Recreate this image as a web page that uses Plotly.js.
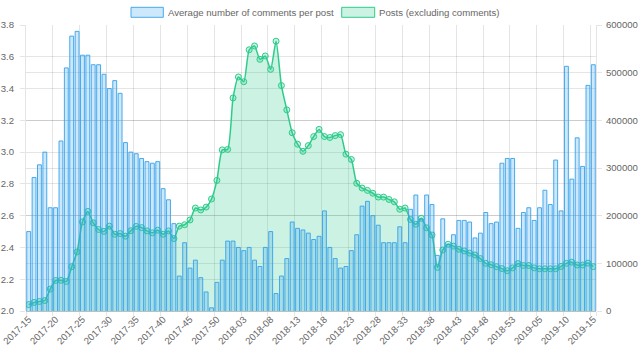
<!DOCTYPE html>
<html><head><meta charset="utf-8">
<script src="https://cdn.plot.ly/plotly-3.0.1.min.js"></script>
<style>html,body{margin:0;padding:0;background:#fff}#chart{width:640px;height:361px}</style>
</head><body><div id="chart"></div>
<script>
const weeks = [
"2017-15","2017-16","2017-17","2017-18","2017-19","2017-20","2017-21","2017-22","2017-23","2017-24",
"2017-25","2017-26","2017-27","2017-28","2017-29","2017-30","2017-31","2017-32","2017-33","2017-34",
"2017-35","2017-36","2017-37","2017-38","2017-39","2017-40","2017-41","2017-42","2017-43","2017-44",
"2017-45","2017-46","2017-47","2017-48","2017-49","2017-50","2017-51","2017-52",
"2018-01","2018-02","2018-03","2018-04","2018-05","2018-06","2018-07","2018-08","2018-09","2018-10",
"2018-11","2018-12","2018-13","2018-14","2018-15","2018-16","2018-17","2018-18","2018-19","2018-20",
"2018-21","2018-22","2018-23","2018-24","2018-25","2018-26","2018-27","2018-28","2018-29","2018-30",
"2018-31","2018-32","2018-33","2018-34","2018-35","2018-36","2018-37","2018-38","2018-39","2018-40",
"2018-41","2018-42","2018-43","2018-44","2018-45","2018-46","2018-47","2018-48","2018-49","2018-50",
"2018-51","2018-52","2018-53",
"2019-01","2019-02","2019-03","2019-04","2019-05","2019-06","2019-07","2019-08","2019-09","2019-10",
"2019-11","2019-12","2019-13","2019-14","2019-15"];

const avgComments = [
2.50,2.84,2.92,3.00,2.65,2.65,3.07,3.53,3.73,3.76,
3.61,3.61,3.55,3.55,3.49,3.40,3.45,3.37,3.06,3.00,
2.99,2.96,2.94,2.93,2.94,2.77,2.70,2.55,2.22,2.43,
2.27,2.32,2.21,2.12,2.02,2.18,2.32,2.44,2.44,2.40,
2.38,2.40,2.32,2.28,2.40,2.50,2.11,2.22,2.33,2.56,
2.52,2.51,2.49,2.45,2.47,2.63,2.40,2.33,2.27,2.28,
2.38,2.48,2.66,2.69,2.60,2.54,2.43,2.43,2.43,2.53,
2.43,2.64,2.73,2.58,2.73,2.67,2.35,2.58,2.42,2.48,
2.57,2.57,2.56,2.46,2.49,2.62,2.55,2.56,2.93,2.96,
2.96,2.52,2.62,2.65,2.57,2.65,2.76,2.67,2.95,2.63,
3.54,2.83,3.09,2.91,3.42,3.55];

const posts = [
13500,18000,20000,22000,46000,64000,64500,62000,93000,124000,
187000,209000,185000,171000,167000,178000,161000,162500,157000,168500,
177500,175000,168000,164000,169500,161000,168000,152000,178000,181000,
191000,216000,212000,218000,235000,274000,338000,339000,447000,491000,
481000,548000,556000,528000,535000,507000,566000,473000,422000,374000,
350000,335000,347000,366000,381000,366000,364000,368000,370000,329000,
318000,268000,258000,253000,247000,239000,239000,234000,229000,213500,
216000,192000,182000,194500,174500,159500,91500,128000,140000,136000,
129500,126000,121500,117500,110000,100000,97000,93000,89000,84500,
90500,99500,95500,95500,90500,88500,88500,88500,88500,93500,
100000,102500,96500,96500,100500,93000];

const seriesNames = ["Average number of comments per post", "Posts (excluding comments)"];
const tickWeeks = weeks.filter((w, i) => i % 5 === 0);

const W = 640, H = 361, M = {l: 26, r: 44, t: 25, b: 50};
const pw = W - M.l - M.r, ph = H - M.t - M.b;
const px = x => (x - M.l) / pw;
const py = y => (H - M.b - y) / ph;

const FONT = '"Liberation Sans", Arial, sans-serif';
const GRID = 'rgba(0,0,0,0.1)';
const blue = 'rgba(54,162,235,0.9)', blueFill = 'rgba(54,162,235,0.25)';
const green = 'rgb(46,204,140)', greenFill = 'rgba(46,204,140,0.25)';

const data = [
  {
    type: 'scatter', name: seriesNames[1], x: weeks, y: posts, yaxis: 'y',
    mode: 'lines+markers', fill: 'tozeroy', fillcolor: greenFill,
    line: {color: green, width: 1.5, shape: 'spline', smoothing: 0.6},
    marker: {size: 6, color: greenFill, line: {color: green, width: 1}},
    hoverinfo: 'skip'
  },
  {
    type: 'bar', name: seriesNames[0], x: weeks, y: avgComments, yaxis: 'y2',
    marker: {color: blueFill, line: {color: blue, width: 1}},
    hoverinfo: 'skip'
  }
];

const layout = {
  width: W, height: H, margin: M,
  paper_bgcolor: '#fff', plot_bgcolor: '#fff',
  showlegend: false, hovermode: false, bargap: 0.28,
  font: {family: FONT, size: 9.6, color: '#666'},
  xaxis: {
    type: 'category', categoryorder: 'array', categoryarray: weeks,
    range: [-0.5, weeks.length - 0.5],
    tickmode: 'array', tickvals: tickWeeks, ticktext: tickWeeks,
    tickson: 'boundaries', ticks: 'outside', ticklen: 4, tickcolor: GRID,
    showgrid: true, gridcolor: GRID, gridwidth: 1,
    tickangle: -45, showline: false, zeroline: false,
    tickfont: {family: FONT, size: 9.6, color: '#666'}
  },
  yaxis: {
    side: 'right', range: [0, 600000], tick0: 0, dtick: 100000, tickformat: 'd',
    showgrid: true, gridcolor: GRID, zeroline: true, zerolinecolor: 'rgba(0,0,0,0.25)', zerolinewidth: 1,
    ticks: 'outside', ticklen: 5, tickcolor: GRID, ticklabelstandoff: 2,
    showline: true, linecolor: GRID, linewidth: 1,
    tickfont: {family: FONT, size: 9.6, color: '#666'}
  },
  yaxis2: {
    overlaying: 'y', side: 'left', range: [2, 3.8], tick0: 2, dtick: 0.2, tickformat: '.1f',
    showgrid: true, gridcolor: GRID, zeroline: false,
    ticks: 'outside', ticklen: 5, tickcolor: GRID, ticklabelstandoff: 4,
    showline: true, linecolor: GRID, linewidth: 1,
    tickfont: {family: FONT, size: 9.6, color: '#666'}
  },
  shapes: [
    {type: 'rect', xref: 'paper', yref: 'paper', x0: px(131), x1: px(163.3), y0: py(17.3), y1: py(7.3),
     fillcolor: blueFill, line: {color: blue, width: 1}},
    {type: 'rect', xref: 'paper', yref: 'paper', x0: px(341.7), x1: px(374.7), y0: py(17.3), y1: py(7.3),
     fillcolor: greenFill, line: {color: green, width: 1}}
  ],
  annotations: [
    {xref: 'paper', yref: 'paper', x: px(168.3), y: py(12.3), xanchor: 'left', yanchor: 'middle',
     text: seriesNames[0], showarrow: false, borderpad: 0, borderwidth: 0,
     font: {family: FONT, size: 9.6, color: '#666'}},
    {xref: 'paper', yref: 'paper', x: px(379.3), y: py(12.3), xanchor: 'left', yanchor: 'middle',
     text: seriesNames[1], showarrow: false, borderpad: 0, borderwidth: 0,
     font: {family: FONT, size: 9.6, color: '#666'}}
  ]
};

Plotly.newPlot('chart', data, layout, {displayModeBar: false, staticPlot: true});
</script>
</body></html>
